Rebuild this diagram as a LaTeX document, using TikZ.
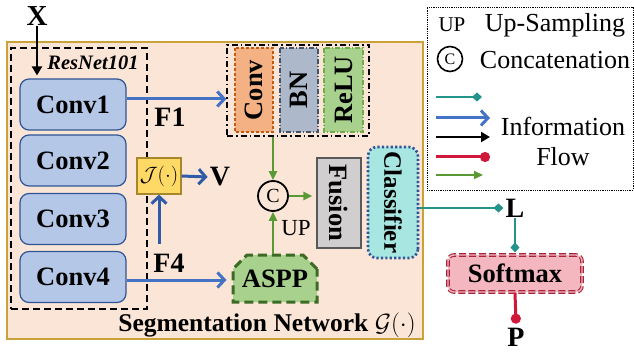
\documentclass[tikz,border=0pt]{standalone}
\usepackage{fontspec}
\setmainfont{Liberation Serif}
\usetikzlibrary{arrows.meta,shapes.misc}
\definecolor{segF}{HTML}{FBE5D6}
\definecolor{segB}{HTML}{C9A23A}
\definecolor{convF}{HTML}{B4C7E7}
\definecolor{convB}{HTML}{2F5597}
\definecolor{blueA}{HTML}{4472C4}
\definecolor{blueD}{HTML}{2F5BA7}
\definecolor{jF}{HTML}{FFD966}
\definecolor{jB}{HTML}{A8862A}
\definecolor{orF}{HTML}{F4B183}
\definecolor{orB}{HTML}{C55A11}
\definecolor{bnF}{HTML}{ADB9CA}
\definecolor{bnB}{HTML}{44546A}
\definecolor{reF}{HTML}{A9D18E}
\definecolor{reB}{HTML}{70AD47}
\definecolor{fuF}{HTML}{D0CECE}
\definecolor{fuB}{HTML}{595959}
\definecolor{clF}{HTML}{A8E6E2}
\definecolor{clB}{HTML}{2F5597}
\definecolor{soF}{HTML}{F4B6BF}
\definecolor{soB}{HTML}{A8243A}
\definecolor{asB}{HTML}{3B6B25}
\definecolor{tealA}{HTML}{22948A}
\definecolor{redA}{HTML}{D0193A}
\definecolor{greenA}{HTML}{5A9A35}
\tikzset{
  big/.style={font=\bfseries\fontsize{26.5}{28}\selectfont},
  reg/.style={font=\fontsize{26}{28}\selectfont},
  convbox/.style={draw=convB, fill=convF, line width=1.2pt, rounded corners=9pt,
    minimum width=106pt, minimum height=51pt, inner sep=0pt, big},
  vbox/.style={line width=1.3pt, inner sep=0pt, big},
  bluearrow/.style={draw=blueA, line width=3pt, -{Straight Barb[length=7pt,width=15pt]}},
  darkbluearrow/.style={draw=blueD, line width=3pt, -{Straight Barb[length=7pt,width=15pt]}},
  blackarrow/.style={draw=black, line width=2.2pt, -{Triangle[length=9pt,width=10pt]}},
  tealarrow/.style={draw=tealA, line width=2.5pt, -{Diamond[length=10pt,width=9pt]}},
  redarrow/.style={draw=redA, line width=3pt, -{Circle[length=10pt,width=10pt]}},
  greenarrow/.style={draw=greenA, line width=2.2pt, -{Triangle[length=9pt,width=8pt]}},
}
\begin{document}
\begin{tikzpicture}[x=1pt,y=-1pt]
\useasboundingbox (0,0) rectangle (634,358);
% segmentation network frame
\node[draw=segB, fill=segF, line width=1.4pt, minimum width=416pt, minimum height=297pt, inner sep=0pt] (seg) at (215,190.5) {};
\node[font=\bfseries\fontsize{25.5}{27}\selectfont, inner sep=0pt] (segl) at (267,325) {Segmentation Network $\mathcal{G}(\cdot)$};
% ResNet
\node[draw=black, dash pattern=on 7pt off 4pt, line width=1.3pt, minimum width=136pt, minimum height=261pt, inner sep=0pt] (res) at (79,178.5) {};
\node[font=\bfseries\itshape\fontsize{20.5}{22}\selectfont, inner sep=0pt] (resl) at (93,63) {ResNet101};
\node[font=\bfseries\fontsize{29}{30}\selectfont, inner sep=0pt] (X) at (37,16) {X};
\node[convbox] (c1) at (73,104.5) {Conv1};
\node[convbox] (c2) at (73,160.5) {Conv2};
\node[convbox] (c3) at (73,219) {Conv3};
\node[convbox] (c4) at (73,277) {Conv4};
% Conv BN ReLU group
\node[draw=black, line width=1.4pt, dash pattern=on 6pt off 3pt on 1.5pt off 3pt, minimum width=142pt, minimum height=91pt, inner sep=0pt] (cbr) at (298,90.5) {};
\node[vbox, draw=orB, fill=orF, densely dashed, rotate=90, minimum width=84pt, minimum height=38pt] (cv) at (254,90) {Conv};
\node[vbox, draw=bnB, fill=bnF, dash pattern=on 5pt off 2pt on 1pt off 2pt, rotate=90, minimum width=84pt, minimum height=38pt] (bn) at (299,90) {BN};
\node[vbox, draw=reB, fill=reF, dash pattern=on 5pt off 2pt on 1pt off 2pt, rotate=90, minimum width=84pt, minimum height=39pt] (relu) at (343.5,90) {ReLU};
% J box
\node[draw=jB, fill=jF, line width=1.2pt, minimum width=44pt, minimum height=36pt, inner sep=0pt, font=\fontsize{22}{24}\selectfont] (J) at (159,176) {$\mathcal{J}(\cdot)$};
\node[font=\bfseries\fontsize{28}{30}\selectfont, inner sep=0pt] (V) at (220,177) {V};
% concat circle
\node[circle, draw=black, line width=1.8pt, minimum size=30pt, inner sep=0pt, font=\fontsize{20}{22}\selectfont] (cc) at (273,196) {C};
\node[font=\fontsize{23}{25}\selectfont, inner sep=0pt] (upl) at (296,228) {UP};
% ASPP
\node[chamfered rectangle, chamfered rectangle corners={north west,north east}, chamfered rectangle xsep=7pt, chamfered rectangle ysep=7pt,
  draw=asB, fill=reF, line width=3pt, dash pattern=on 9pt off 5pt, minimum width=84pt, minimum height=47pt, inner sep=0pt, big] (aspp) at (275,278.5) {ASPP};
% Fusion, Classifier
\node[vbox, draw=fuB, fill=fuF, rotate=-90, minimum width=90pt, minimum height=44pt] (fu) at (339,203) {Fusion};
\node[vbox, draw=clB, fill=clF, rotate=-90, line width=2.6pt, dash pattern=on 2.2pt off 2.2pt, rounded corners=9pt, minimum width=111pt, minimum height=50pt, font=\bfseries\fontsize{25}{27}\selectfont] (cl) at (393,202.5) {Classifier};
% outputs
\node[font=\bfseries\fontsize{28}{30}\selectfont, inner sep=0pt] (L) at (515,208) {L};
\node[draw=soB, fill=soF, line width=1.1pt, double=soF, double distance=1.4pt, dash pattern=on 7pt off 3pt, rounded corners=6pt, minimum width=134pt, minimum height=37pt, inner sep=0pt, big] (soft) at (515,273.5) {Softmax};
\node[font=\bfseries\fontsize{28}{30}\selectfont, inner sep=0pt] (P) at (516,337) {P};
% labels
\node[font=\bfseries\fontsize{28}{30}\selectfont, inner sep=0pt] (F1) at (170,117) {F1};
\node[font=\bfseries\fontsize{28}{30}\selectfont, inner sep=0pt] (F4) at (169,263) {F4};
% connectors
\draw[blackarrow] (X.south) -- ([yshift=3pt]X.south |- c1.north);
\draw[bluearrow] ([yshift=5.5pt]c1.east) -- ([yshift=5.5pt]c1.east -| cbr.west);
\draw[bluearrow] ([yshift=-3pt]c4.east) -- ([yshift=-3pt,xshift=-5pt]c4.east -| aspp.west);
\coordinate (f4s) at (159,244);
\draw[darkbluearrow] (f4s) -- (J.south);
\draw[darkbluearrow] (J.east) -- ([xshift=-2pt]V.west);
\draw[greenarrow] (cc.north |- cbr.south) -- (cc.north);
\draw[greenarrow] (cc.south |- aspp.north) -- (cc.south);
\draw[greenarrow] (cc.east) -- ([xshift=-4pt]cc.east -| fu.south);
\draw[tealarrow] (cl.north |- L.west) -- ([xshift=-2pt]L.west);
\draw[tealarrow] ([yshift=-1pt]L.south) -- ([yshift=2pt]soft.north);
\draw[redarrow] (soft.south) -- ([yshift=4pt]P.north);
% legend
\node[draw=black, line width=0.8pt, densely dotted, minimum width=206pt, minimum height=183pt, inner sep=0pt] (leg) at (530,98.5) {};
\node[font=\fontsize{21}{23}\selectfont, inner sep=0pt] (lup) at (452,25) {UP};
\node[reg, inner sep=0pt] (lups) at (555,25) {Up-Sampling};
\node[circle, draw=black, line width=1.6pt, minimum size=25pt, inner sep=0pt, font=\fontsize{16}{18}\selectfont] (lc) at (450,59) {C};
\node[reg, inner sep=0pt] (lcon) at (555,60) {Concatenation};
\coordinate (a1s) at (436,97);  \coordinate (a1e) at (482,97);
\coordinate (a2s) at (436,118); \coordinate (a2e) at (490,118);
\coordinate (a3s) at (436,137); \coordinate (a3e) at (490,137);
\coordinate (a4s) at (436,157); \coordinate (a4e) at (490,157);
\coordinate (a5s) at (436,175); \coordinate (a5e) at (483,175);
\draw[tealarrow] (a1s) -- (a1e);
\draw[bluearrow] (a2s) -- (a2e);
\draw[blackarrow] (a3s) -- (a3e);
\draw[redarrow] (a4s) -- (a4e);
\draw[greenarrow] (a5s) -- (a5e);
\node[reg, inner sep=0pt] (linf) at (563,126) {Information};
\node[reg, inner sep=0pt] (lflow) at (563,157) {Flow};
\end{tikzpicture}
\end{document}
